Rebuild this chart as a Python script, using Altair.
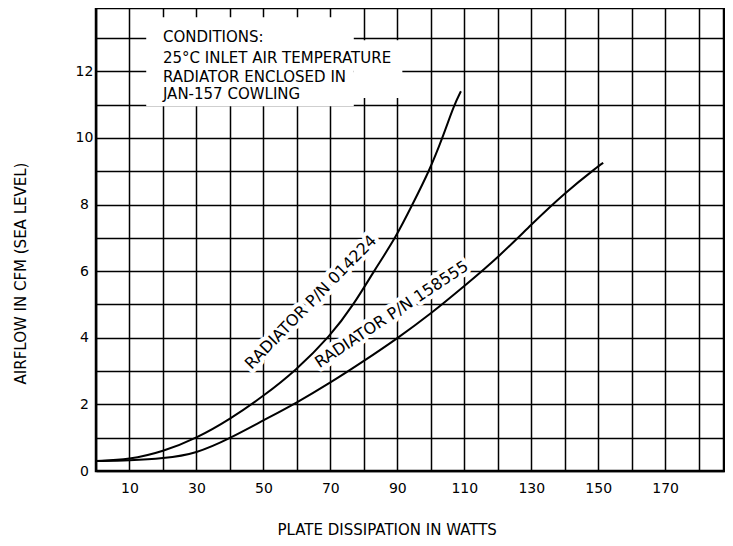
import altair as alt
import pandas as pd

# ---- data ----
x_p01424 = [0, 10, 20, 30, 40, 50, 59.5, 70, 77, 83, 89.5, 94.5, 99.5, 103.5, 107, 109]
y_p01424 = [0.30, 0.34, 0.58, 0.98, 1.55, 2.25, 3.0, 4.05, 5.0, 6.0, 7.0, 8.0, 9.0, 10.0, 11.0, 11.4]

x_p158555 = [0, 10, 20, 30, 40, 50, 60, 70, 80, 90, 100, 110, 120, 130, 140, 150, 151.5]
y_p158555 = [0.30, 0.32, 0.37, 0.52, 0.98, 1.52, 2.05, 2.65, 3.3, 3.98, 4.72, 5.55, 6.4, 7.4, 8.35, 9.15, 9.25]

x_ticks = list(range(0, 181, 10))
y_ticks = list(range(0, 14))

condition_lines = ["CONDITIONS:", "25°C INLET AIR TEMPERATURE",
                   "RADIATOR ENCLOSED IN", "JAN-157 COWLING"]
curve_labels = ["RADIATOR P/N 014224", "RADIATOR P/N 158555"]

# ---- tables built from the lists ----
curves = pd.concat([
    pd.DataFrame({"x": x_p01424, "y": y_p01424, "s": "01424"}),
    pd.DataFrame({"x": x_p158555, "y": y_p158555, "s": "158555"}),
])
cond_df = pd.DataFrame({"t": condition_lines, "x": [20] * 4,
                        "y": [13.02, 12.40, 11.82, 11.33]})
lab_df = pd.DataFrame({"t": curve_labels, "x": [64.2, 88.3], "y": [5.07, 4.70],
                       "a": [314.4, 326.5]})
mask_df = pd.DataFrame({"x": [15, 77], "x2": [77, 91.5],
                        "y": [10.95, 11.2], "y2": [13.62, 12.93]})

FONT = "DejaVu Sans"
PLOT_W = 628
XMAX = PLOT_W / 3.348
xs = alt.Scale(domain=[0, XMAX], nice=False, zero=False)
ys = alt.Scale(domain=[0, 13.9], nice=False, zero=False)

xaxis = alt.Axis(values=x_ticks, grid=True, ticks=False, domain=False,
                 labelExpr="datum.value % 20 == 10 ? datum.label : ''",
                 labelFont=FONT, labelFontSize=14, labelColor="black",
                 labelBaseline="middle", labelPadding=17, labelFlush=False,
                 gridColor="black", gridWidth=1.5, gridOpacity=1,
                 title="PLATE DISSIPATION IN WATTS", titleFont=FONT, titleFontSize=15,
                 titleFontWeight="normal", titleColor="black",
                 titleX=290.7, titleY=58.5, titleAlign="center", titleBaseline="middle")
yaxis = alt.Axis(values=y_ticks, grid=True, ticks=False, domain=False,
                 labelExpr="datum.value % 2 == 0 && datum.value <= 12 ? datum.label : ''",
                 labelFont=FONT, labelFontSize=14, labelColor="black",
                 labelAlign="center", labelBaseline="middle", labelPadding=12,
                 labelFlush=False,
                 gridColor="black", gridWidth=1.5, gridOpacity=1,
                 title="AIRFLOW IN CFM (SEA LEVEL)", titleFont=FONT, titleFontSize=15,
                 titleFontWeight="normal", titleColor="black", titleAngle=270,
                 titleX=-75.8, titleY=265, titleAlign="center", titleBaseline="middle")


def X():
    return alt.X("x:Q", scale=xs, axis=xaxis)


def Y():
    return alt.Y("y:Q", scale=ys, axis=yaxis)


mask = alt.Chart(mask_df).mark_rect(color="white").encode(
    x=X(), x2="x2:Q", y=Y(), y2="y2:Q")

halo = alt.Chart(lab_df).mark_text(font=FONT, fontSize=16, stroke="white",
                                   strokeWidth=8, strokeJoin="round", fill="white",
                                   align="center", baseline="middle").encode(
    x=X(), y=Y(), text="t:N", angle=alt.Angle("a:Q", scale=None))

lines = alt.Chart(curves).mark_line(color="black", strokeWidth=2,
                                    interpolate="basis").encode(
    x=X(), y=Y(), detail="s:N")

labels = alt.Chart(lab_df).mark_text(font=FONT, fontSize=16, color="black",
                                     align="center", baseline="middle").encode(
    x=X(), y=Y(), text="t:N", angle=alt.Angle("a:Q", scale=None))

cond = alt.Chart(cond_df).mark_text(font=FONT, fontSize=15, color="black",
                                    align="left", baseline="middle").encode(
    x=X(), y=Y(), text="t:N")

chart = alt.layer(mask, halo, lines, labels, cond).properties(
    width=PLOT_W, height=463,
    autosize=alt.AutoSizeParams(type="none"),
    padding={"left": 88, "top": 0, "right": 1, "bottom": 67},
    background="white",
).configure_view(stroke="black", strokeWidth=2.5)

chart.save("out.html", embed_options={"renderer": "svg", "actions": False})
